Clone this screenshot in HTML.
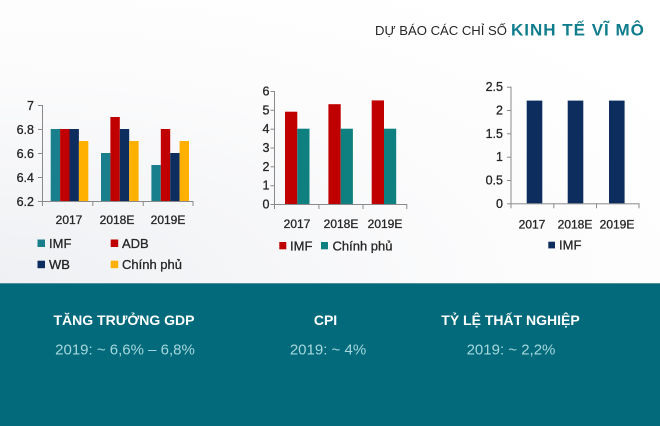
<!DOCTYPE html>
<html><head><meta charset="utf-8"><style>
html,body{margin:0;padding:0;}
body{width:660px;height:426px;overflow:hidden;background:#fff;}
svg{display:block;}
text{font-family:"Liberation Sans","DejaVu Sans",sans-serif;}
.lb{stroke:#262626;stroke-width:0.3;}
</style></head><body>
<svg width="660" height="426" viewBox="0 0 660 426" xmlns="http://www.w3.org/2000/svg">
<defs>
<radialGradient id="bg" cx="0" cy="1" r="1.2">
<stop offset="0" stop-color="#eef0f3"/><stop offset="0.6" stop-color="#fbfbfc"/><stop offset="1" stop-color="#ffffff"/>
</radialGradient>
</defs>
<rect x="0" y="0" width="660" height="283" fill="url(#bg)"/>
<!-- Title -->
<text x="375" y="35" font-size="13.1" fill="#262626">DỰ BÁO CÁC CHỈ SỐ</text>
<text x="511" y="35.5" font-size="17" font-weight="bold" fill="#107d8c" letter-spacing="1">KINH TẾ VĨ MÔ</text>

<!-- Chart 1 -->
<g fill="#8a8a8a">
<rect x="42" y="105" width="1" height="96.5"/>
<rect x="42" y="201" width="151" height="1"/>
<rect x="38" y="105" width="4" height="1"/><rect x="38" y="129" width="4" height="1"/><rect x="38" y="153" width="4" height="1"/><rect x="38" y="177" width="4" height="1"/><rect x="38" y="201" width="4" height="1"/>
<rect x="42" y="201" width="1" height="5"/><rect x="92.3" y="201" width="1" height="5"/><rect x="142.7" y="201" width="1" height="5"/><rect x="192.5" y="201" width="1" height="5"/>
</g>
<g class="lb" font-size="12.5" fill="#262626" text-anchor="end">
<text x="34" y="110">7</text><text x="34" y="134">6.8</text><text x="34" y="158">6.6</text><text x="34" y="182">6.4</text><text x="34" y="206">6.2</text>
</g>
<g>
<rect x="50.7" y="129" width="9.4" height="72" fill="#1a7f8c"/>
<rect x="60.1" y="129" width="9.4" height="72" fill="#c00000"/>
<rect x="69.5" y="129" width="9.4" height="72" fill="#0d2d5e"/>
<rect x="78.9" y="141" width="9.4" height="60" fill="#ffb000"/>
<rect x="101" y="153" width="9.4" height="48" fill="#1a7f8c"/>
<rect x="110.4" y="117" width="9.4" height="84" fill="#c00000"/>
<rect x="119.8" y="129" width="9.4" height="72" fill="#0d2d5e"/>
<rect x="129.2" y="141" width="9.4" height="60" fill="#ffb000"/>
<rect x="151.4" y="165" width="9.4" height="36" fill="#1a7f8c"/>
<rect x="160.8" y="129" width="9.4" height="72" fill="#c00000"/>
<rect x="170.2" y="153" width="9.4" height="48" fill="#0d2d5e"/>
<rect x="179.6" y="141" width="9.4" height="60" fill="#ffb000"/>
</g>
<g class="lb" font-size="12" fill="#262626" text-anchor="middle">
<text x="69" y="224">2017</text><text x="117" y="224">2018E</text><text x="168" y="224">2019E</text>
</g>
<g class="lb" font-size="13" fill="#262626">
<text x="49" y="248">IMF</text>
<text x="122" y="248">ADB</text>
<text x="49" y="269">WB</text>
<text x="122" y="269">Chính phủ</text>
</g>
<rect x="37.5" y="239.5" width="7.5" height="7.5" fill="#1a7f8c"/>
<rect x="110.7" y="239.5" width="7.5" height="7.5" fill="#c00000"/>
<rect x="37.5" y="260.7" width="7.5" height="7.5" fill="#0d2d5e"/>
<rect x="110.7" y="260.7" width="7.5" height="7.5" fill="#ffb000"/>

<!-- Chart 2 -->
<g fill="#8a8a8a">
<rect x="274" y="91" width="1" height="113.5"/>
<rect x="274" y="204" width="133" height="1"/>
<rect x="270.5" y="91" width="4" height="1"/><rect x="270.5" y="109.8" width="4" height="1"/><rect x="270.5" y="128.7" width="4" height="1"/><rect x="270.5" y="147.5" width="4" height="1"/><rect x="270.5" y="166.3" width="4" height="1"/><rect x="270.5" y="185.2" width="4" height="1"/><rect x="270.5" y="204" width="4" height="1"/>
<rect x="274" y="204" width="1" height="5"/><rect x="318.4" y="204" width="1" height="5"/><rect x="362.5" y="204" width="1" height="5"/><rect x="406.3" y="204" width="1" height="5"/>
</g>
<g class="lb" font-size="12.5" fill="#262626" text-anchor="end">
<text x="269.5" y="95.5">6</text><text x="269.5" y="114.3">5</text><text x="269.5" y="133.2">4</text><text x="269.5" y="152">3</text><text x="269.5" y="170.8">2</text><text x="269.5" y="189.7">1</text><text x="269.5" y="208.5">0</text>
</g>
<g>
<rect x="285" y="111.7" width="12.3" height="92.3" fill="#c00000"/>
<rect x="297.3" y="128.7" width="12.2" height="75.3" fill="#0f8080"/>
<rect x="328.4" y="104.2" width="12.3" height="99.8" fill="#c00000"/>
<rect x="340.7" y="128.7" width="12.2" height="75.3" fill="#0f8080"/>
<rect x="371.7" y="100.4" width="12.3" height="103.6" fill="#c00000"/>
<rect x="384" y="128.7" width="12.2" height="75.3" fill="#0f8080"/>
</g>
<g class="lb" font-size="12" fill="#262626" text-anchor="middle">
<text x="297" y="228">2017</text><text x="341" y="228">2018E</text><text x="385" y="228">2019E</text>
</g>
<rect x="279.3" y="242" width="7" height="7.3" fill="#c00000"/>
<rect x="321" y="242" width="7" height="7.3" fill="#0f8080"/>
<g class="lb" font-size="13" fill="#262626">
<text x="290" y="250.5">IMF</text>
<text x="332.5" y="250.5">Chính phủ</text>
</g>

<!-- Chart 3 -->
<g fill="#8a8a8a">
<rect x="510.5" y="86.7" width="1" height="117"/>
<rect x="510.5" y="203.3" width="129" height="1"/>
<rect x="507" y="86.7" width="4" height="1"/><rect x="507" y="110" width="4" height="1"/><rect x="507" y="133.3" width="4" height="1"/><rect x="507" y="156.7" width="4" height="1"/><rect x="507" y="180" width="4" height="1"/><rect x="507" y="203.3" width="4" height="1"/>
<rect x="510.5" y="203.3" width="1" height="5"/><rect x="553.3" y="203.3" width="1" height="5"/><rect x="596" y="203.3" width="1" height="5"/><rect x="638.5" y="203.3" width="1" height="5"/>
</g>
<g class="lb" font-size="12.5" fill="#262626" text-anchor="end">
<text x="503" y="91">2.5</text><text x="503" y="114.5">2</text><text x="503" y="137.8">1.5</text><text x="503" y="161.2">1</text><text x="503" y="184.5">0.5</text><text x="503" y="207.8">0</text>
</g>
<g fill="#0d2d5e">
<rect x="526.7" y="100.6" width="15.6" height="102.7"/>
<rect x="567.7" y="100.6" width="15.6" height="102.7"/>
<rect x="609" y="100.6" width="15.6" height="102.7"/>
</g>
<g class="lb" font-size="12" fill="#262626" text-anchor="middle">
<text x="532" y="228.5">2017</text><text x="575" y="228.5">2018E</text><text x="617" y="228.5">2019E</text>
</g>
<rect x="548.3" y="241.7" width="6.7" height="6.7" fill="#0d2d5e"/>
<text class="lb" x="559" y="249.5" font-size="13" fill="#262626">IMF</text>

<!-- Bottom band -->
<rect x="0" y="283" width="660" height="143" fill="#036a7c"/>
<rect x="0" y="283" width="660" height="1" fill="#4f8e9a"/>
<g text-anchor="middle" font-weight="bold" font-size="14" fill="#ffffff">
<text x="124" y="325">TĂNG TRƯỞNG GDP</text>
<text x="325.5" y="325">CPI</text>
<text x="510.5" y="325">TỶ LỆ THẤT NGHIỆP</text>
</g>
<g text-anchor="middle" font-size="15" fill="#a5d8dc">
<text x="125" y="354.5">2019: ~ 6,6% – 6,8%</text>
<text x="328" y="354.5">2019: ~ 4%</text>
<text x="511" y="354.5">2019: ~ 2,2%</text>
</g>
</svg>
</body></html>
